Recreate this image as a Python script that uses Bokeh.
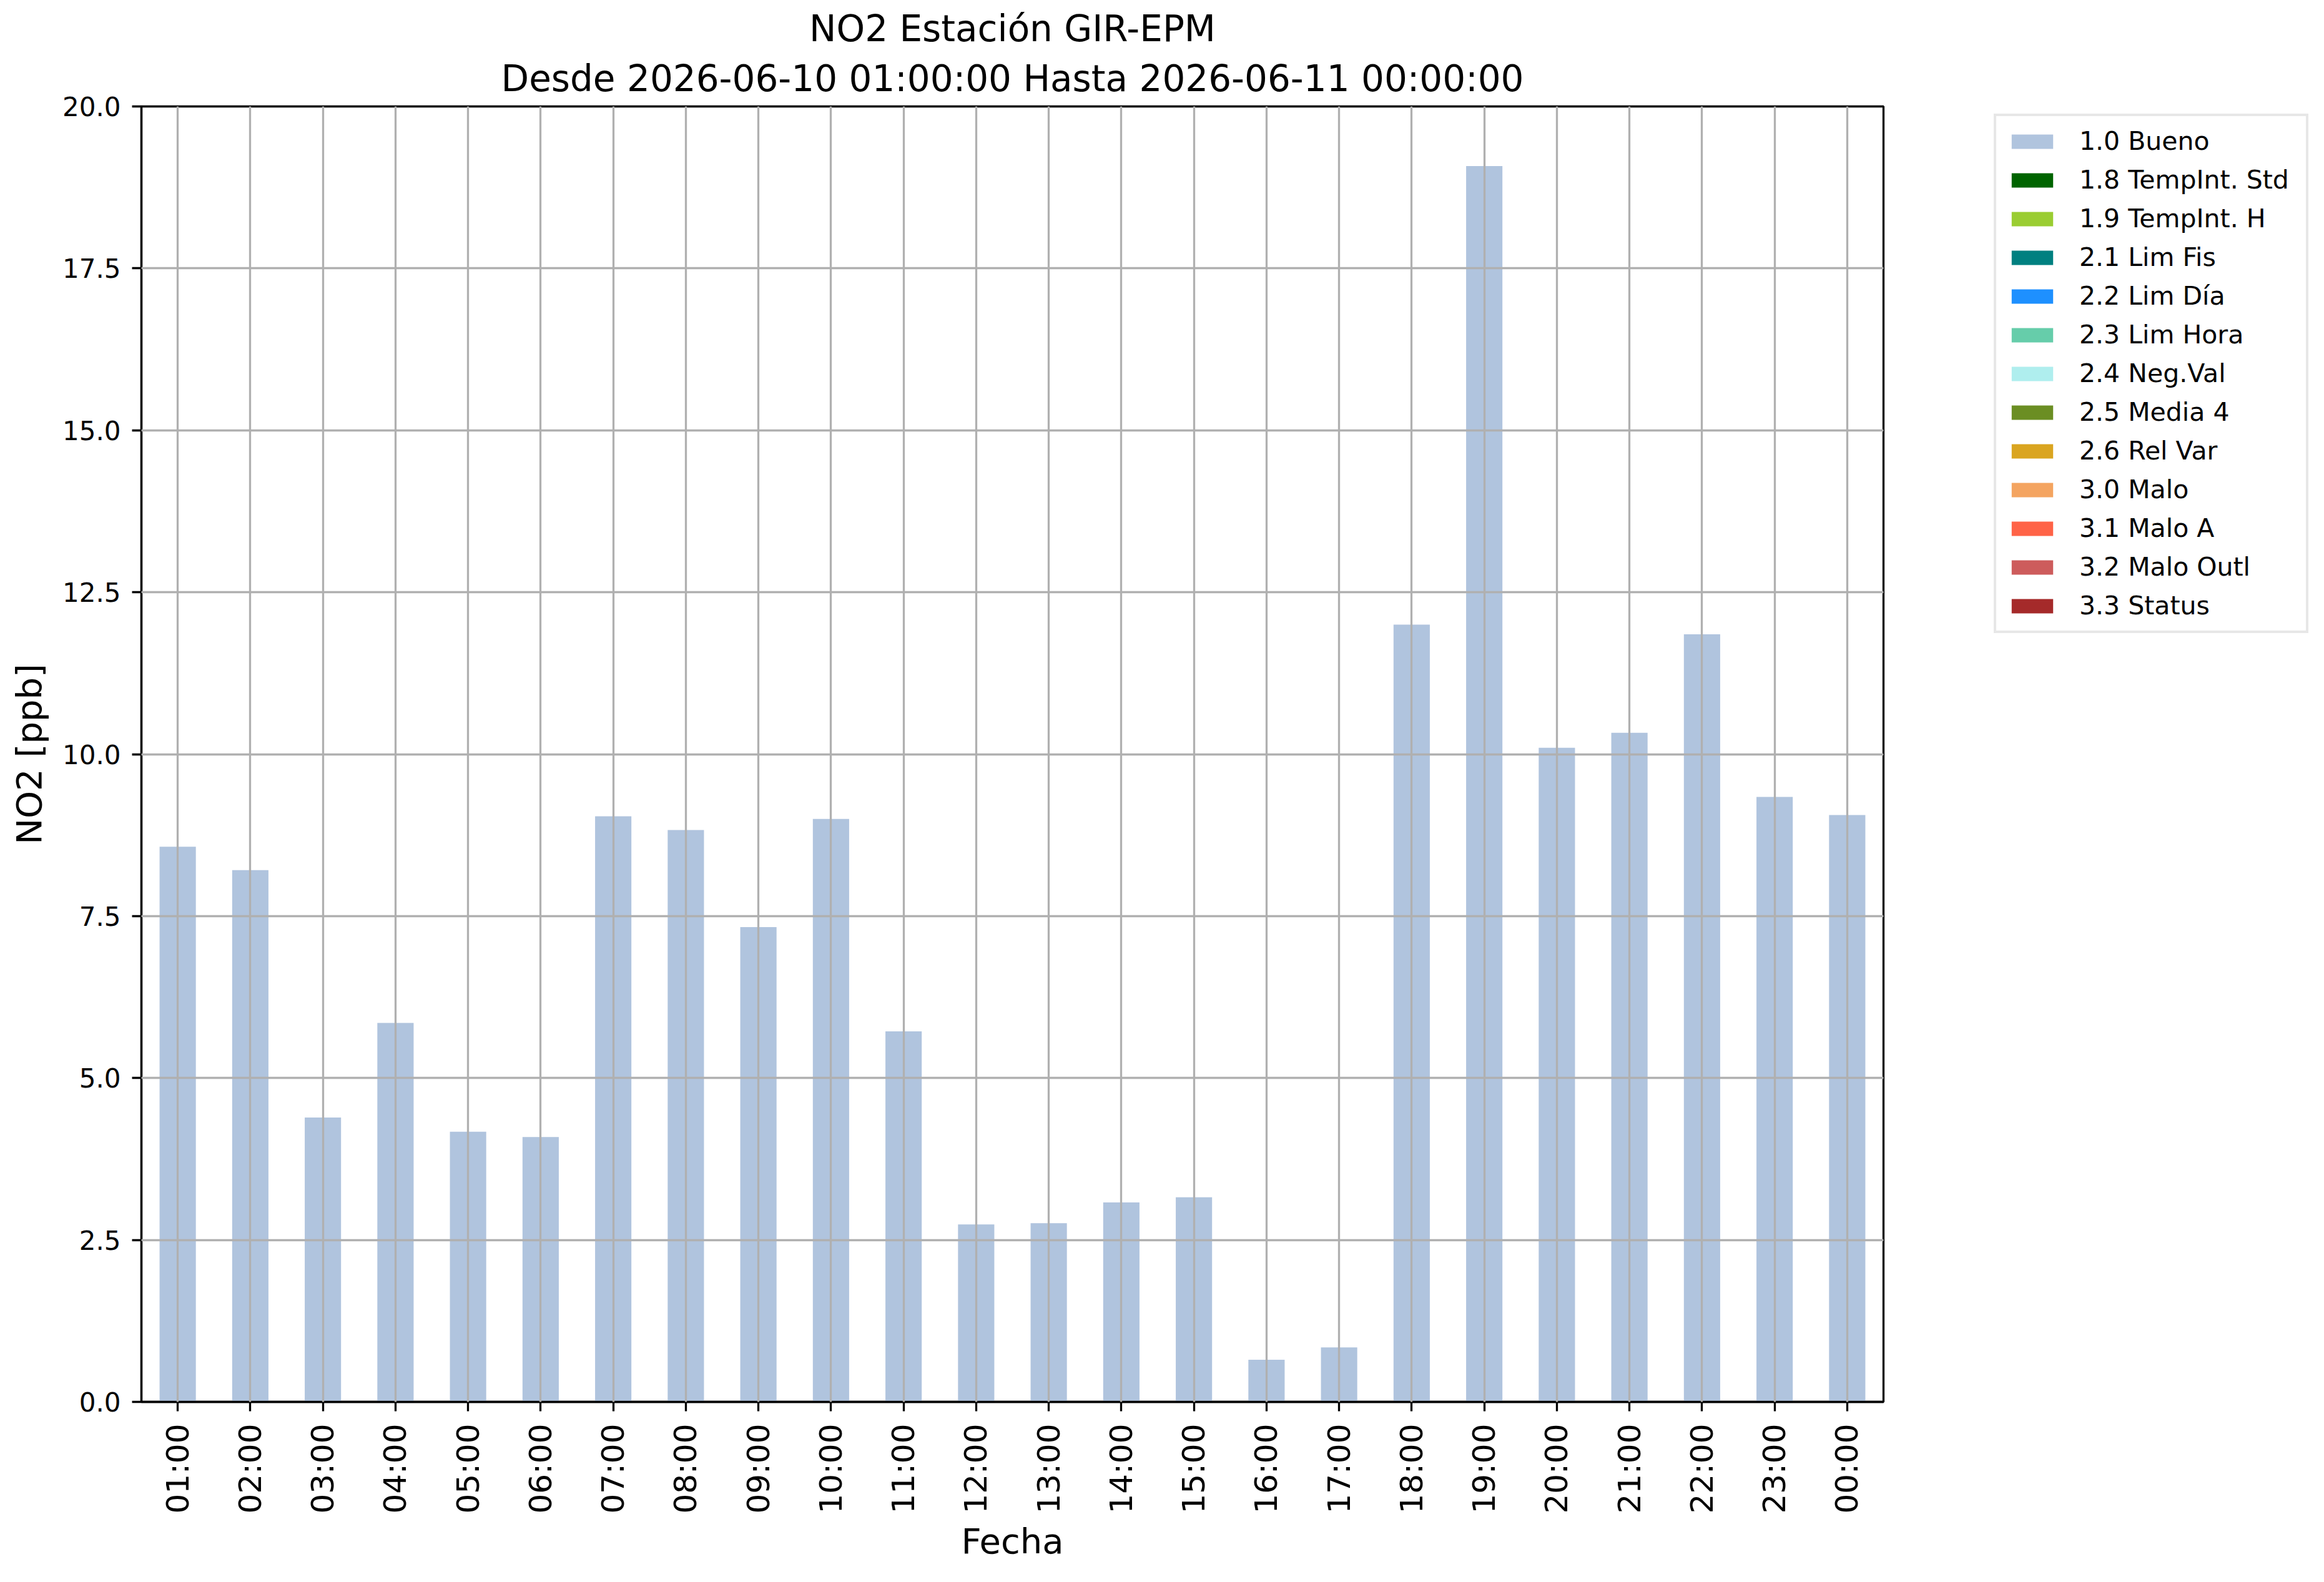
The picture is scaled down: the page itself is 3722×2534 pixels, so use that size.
from bokeh.plotting import figure
from bokeh.layouts import row
from bokeh.models import (FactorRange, Range1d, FixedTicker, Legend, LegendItem,
                          Title, ColumnDataSource, CustomJSTickFormatter)
from bokeh.embed import file_html
from bokeh.resources import INLINE
import math

horas = ["01:00", "02:00", "03:00", "04:00", "05:00", "06:00", "07:00", "08:00",
         "09:00", "10:00", "11:00", "12:00", "13:00", "14:00", "15:00", "16:00",
         "17:00", "18:00", "19:00", "20:00", "21:00", "22:00", "23:00", "00:00"]
no2 = [8.57, 8.21, 4.39, 5.85, 4.17, 4.09, 9.04, 8.83, 7.33, 9.00, 5.72, 2.74,
       2.76, 3.08, 3.16, 0.65, 0.84, 12.00, 19.08, 10.10, 10.33, 11.85, 9.34, 9.06]
# quality flag of each hourly value (all hours are "1.0 Bueno")
bandera = ["1.0 Bueno"] * 24

flags = ["1.0 Bueno", "1.8 TempInt. Std", "1.9 TempInt. H", "2.1 Lim Fis", "2.2 Lim Día",
         "2.3 Lim Hora", "2.4 Neg.Val", "2.5 Media 4", "2.6 Rel Var", "3.0 Malo",
         "3.1 Malo A", "3.2 Malo Outl", "3.3 Status"]
colores = ["#B0C4DE", "#006400", "#9ACD32", "#008080", "#1E90FF", "#66CDAA", "#AFEEEE",
           "#6B8E23", "#DAA520", "#F4A460", "#FF6347", "#CD5C5C", "#A52A2A"]

y_ticks = [0, 2.5, 5, 7.5, 10, 12.5, 15, 17.5, 20]

titulo1 = "NO2 Estación GIR-EPM"
titulo2 = "Desde 2026-06-10 01:00:00 Hasta 2026-06-11 00:00:00"

FONT = "DejaVu Sans"
LW = 3.3
TOTAL_W, TOTAL_H = 3706, 2518
LEFT, TOP = 226, 170
FRAME_W, FRAME_H = 2790, 2075
MAIN_W = LEFT + FRAME_W + 10

p = figure(width=MAIN_W, height=TOTAL_H, output_backend="svg", toolbar_location=None,
           x_range=FactorRange(factors=horas, range_padding=0),
           y_range=Range1d(0, 20),
           min_border_left=LEFT, min_border_right=MAIN_W - LEFT - FRAME_W,
           min_border_top=TOP, min_border_bottom=TOTAL_H - TOP - FRAME_H)

p.background_fill_color = "white"
p.border_fill_color = "white"
p.outline_line_color = "black"
p.outline_line_width = LW

for flag, col in zip(flags, colores):
    tops = [v if b == flag else float("nan") for v, b in zip(no2, bandera)]
    src = ColumnDataSource(dict(x=horas, top=tops))
    p.vbar(x="x", top="top", bottom=0, width=0.5, source=src,
           fill_color=col, line_color=None)

# grids (drawn over the bars, as in the original)
p.xgrid.grid_line_color = "#b0b0b0"
p.xgrid.grid_line_width = LW
p.xgrid.level = "overlay"
p.ygrid.grid_line_color = "#b0b0b0"
p.ygrid.grid_line_width = LW
p.ygrid.level = "overlay"
p.ygrid.ticker = FixedTicker(ticks=y_ticks[1:-1])

# y axis
ya = p.yaxis[0]
ya.ticker = FixedTicker(ticks=y_ticks)
ya.formatter = CustomJSTickFormatter(code="return tick.toFixed(1);")
ya.axis_label = "NO2 [ppb]"
ya.axis_label_text_font = FONT
ya.axis_label_text_font_size = "56px"
ya.axis_label_text_font_style = "normal"
ya.axis_label_text_color = "black"
ya.axis_label_standoff = 18
ya.major_label_text_font = FONT
ya.major_label_text_font_size = "42px"
ya.major_label_text_color = "black"
ya.major_label_standoff = 18
ya.major_tick_out = 15
ya.major_tick_in = 0
ya.minor_tick_out = 0
ya.minor_tick_in = 0
ya.major_tick_line_width = LW
ya.axis_line_width = LW
ya.axis_line_color = "black"

# x axis
xa = p.xaxis[0]
xa.axis_label = "Fecha"
xa.axis_label_text_font = FONT
xa.axis_label_text_font_size = "56px"
xa.axis_label_text_font_style = "normal"
xa.axis_label_text_color = "black"
xa.axis_label_standoff = 8
xa.major_label_text_font = FONT
xa.major_label_text_font_size = "50px"
xa.major_label_text_color = "black"
xa.major_label_orientation = math.pi / 2
xa.major_label_standoff = 20
xa.major_tick_out = 15
xa.major_tick_in = 0
xa.major_tick_line_width = LW
xa.axis_line_width = LW
xa.axis_line_color = "black"

# titles (first added is closest to the plot)
t2 = Title(text=titulo2, align="center", text_font=FONT, text_font_size="58px",
           text_font_style="normal", text_color="black", standoff=21)
t1 = Title(text=titulo1, align="center", text_font=FONT, text_font_size="58px",
           text_font_style="normal", text_color="black", standoff=0)
p.add_layout(t2, "above")
p.add_layout(t1, "above")

# legend panel (separate figure to the right, holding legend proxies only;
# its frame is aligned with the main frame: same top and height)
LEG_W = TOTAL_W - MAIN_W
p2 = figure(width=LEG_W, height=TOTAL_H, output_backend="svg", toolbar_location=None,
            x_range=Range1d(0, 1), y_range=Range1d(0, 1),
            x_axis_location=None, y_axis_location=None,
            min_border=0, min_border_left=0, min_border_right=0,
            min_border_top=0, min_border_bottom=0)
p2.outline_line_color = None
p2.background_fill_color = "white"
p2.border_fill_color = "white"
p2.grid.visible = False

items = []
for flag, col in zip(flags, colores):
    r = p2.vbar(x=[0.5], top=[float("nan")], bottom=0, width=0.1,
                fill_color=col, line_color=None)
    items.append(LegendItem(label=flag, renderers=[r]))

LEG_H = 828
LEG_LEFT_PAGE, LEG_TOP_PAGE = 3193, 186
legend = Legend(items=items,
                location=(LEG_LEFT_PAGE - MAIN_W, FRAME_H - (LEG_TOP_PAGE - TOP) - LEG_H),
                margin=0, padding=16, spacing=14,
                glyph_width=83, glyph_height=29, label_height=47, label_width=347,
                label_standoff=34,
                label_text_font=FONT, label_text_font_size="41px",
                label_text_color="black",
                border_line_color="#d0d0d0", border_line_width=4,
                background_fill_color="white", background_fill_alpha=1.0)
p2.add_layout(legend, "center")

layout = row(p, p2, spacing=0)
open("out.html", "w").write(file_html(layout, INLINE))
